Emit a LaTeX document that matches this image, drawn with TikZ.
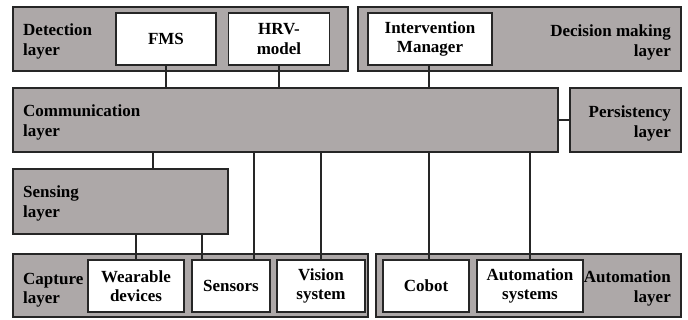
\documentclass[tikz,border=0pt]{standalone}
\usepackage{fontspec}
\setmainfont{Liberation Serif}[BoldFont={Liberation Serif Bold},UprightFont={Liberation Serif}]
\newfontfamily\labelfont{Liberation Serif Bold}
\definecolor{layergray}{HTML}{ADA8A8}
\definecolor{edge}{HTML}{262626}
\begin{document}
\begin{tikzpicture}[x=1pt,y=-1pt,
  font=\labelfont\fontsize{17}{19.5}\selectfont,
  layerbox/.style={draw=edge,fill=layergray,line width=1.3pt,inner sep=0pt},
  itembox/.style={draw=edge,fill=white,line width=1.3pt,inner sep=0pt,align=center},
  lbl/.style={inner sep=0pt,anchor=north west,align=left},
  rlbl/.style={inner sep=0pt,anchor=north east,align=right},
  wire/.style={draw=edge,line width=1.3pt}]
\useasboundingbox (0,0) rectangle (688,320);
\fill[white] (0,0) rectangle (688,320);
% layers
\node[layerbox,minimum width=335,minimum height=64] (det) at (180.5,39) {};
\node[layerbox,minimum width=323,minimum height=64] (dec) at (519.5,39) {};
\node[layerbox,minimum width=545,minimum height=64] (comm) at (285.5,120) {};
\node[layerbox,minimum width=111,minimum height=64] (pers) at (625.5,120) {};
\node[layerbox,minimum width=215,minimum height=65] (sens) at (120.5,201.5) {};
\node[layerbox,minimum width=355,minimum height=63] (capt) at (190.5,285.5) {};
\node[layerbox,minimum width=305,minimum height=63] (auto) at (528.5,285.5) {};
% layer labels
\node[lbl] (detl) at (23,24) {Detection\\layer};
\node[rlbl] (decl) at (671,25) {Decision making\\layer};
\node[lbl] (comml) at (23,105) {Communication\\layer};
\node[rlbl] (persl) at (671,106) {Persistency\\layer};
\node[lbl] (sensl) at (23,186) {Sensing\\layer};
\node[lbl] (captl) at (23,273) {Capture\\layer};
\node[rlbl] (autol) at (671,271) {Automation\\layer};
% items
\node[itembox,minimum width=100,minimum height=52] (fms) at (166,39) {FMS};
\node[itembox,minimum width=101,minimum height=52] (hrv) at (279,39) {HRV-\\model};
\node[itembox,minimum width=124,minimum height=52] (im) at (430,39) {Intervention\\Manager};
\node[itembox,minimum width=96,minimum height=52] (wear) at (136,286) {Wearable\\devices};
\node[itembox,minimum width=78,minimum height=52] (snsr) at (231,286) {Sensors};
\node[itembox,minimum width=88,minimum height=52] (vis) at (321,286) {Vision\\system};
\node[itembox,minimum width=86,minimum height=52] (cob) at (426,286) {Cobot};
\node[itembox,minimum width=106,minimum height=52] (asys) at (530,286) {Automation\\systems};
% helper x positions
\coordinate (xa) at (153,0);
\coordinate (xb) at (202,0);
\coordinate (xc) at (254,0);
\coordinate (xd) at (429,0);
% connectors
\draw[wire] (fms.south) -- (fms.south |- comm.north);
\draw[wire] (hrv.south) -- (hrv.south |- comm.north);
\draw[wire] (im.south -| xd) -- (comm.north -| xd);
\draw[wire] (comm.east) -- (pers.west);
\draw[wire] (comm.south -| xa) -- (sens.north -| xa);
\draw[wire] (sens.south -| wear) -- (wear.north);
\draw[wire] (sens.south -| xb) -- (snsr.north -| xb);
\draw[wire] (comm.south -| xc) -- (snsr.north -| xc);
\draw[wire] (comm.south -| vis) -- (vis.north);
\draw[wire] (comm.south -| xd) -- (cob.north -| xd);
\draw[wire] (comm.south -| asys) -- (asys.north);
\end{tikzpicture}
\end{document}
